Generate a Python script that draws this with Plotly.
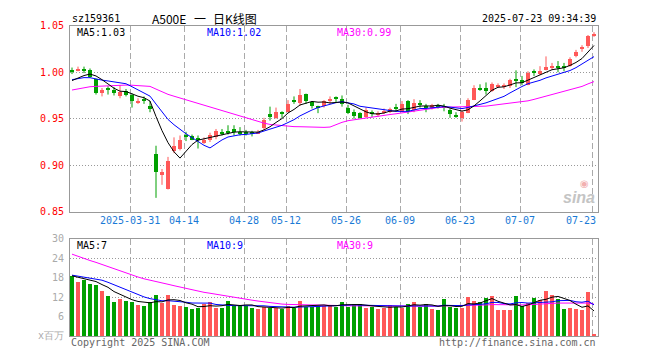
import plotly.graph_objects as go
import pandas as pd

# ---------------- data ----------------
dates = [
    "2025-03-17", "2025-03-18", "2025-03-19", "2025-03-20", "2025-03-21",
    "2025-03-24", "2025-03-25", "2025-03-26", "2025-03-27", "2025-03-28",
    "2025-03-31", "2025-04-01", "2025-04-02", "2025-04-03", "2025-04-07",
    "2025-04-08", "2025-04-09", "2025-04-10", "2025-04-11", "2025-04-14",
    "2025-04-15", "2025-04-16", "2025-04-17", "2025-04-18", "2025-04-21",
    "2025-04-22", "2025-04-23", "2025-04-24", "2025-04-25", "2025-04-28",
    "2025-04-29", "2025-04-30", "2025-05-06", "2025-05-07", "2025-05-08",
    "2025-05-09", "2025-05-12", "2025-05-13", "2025-05-14", "2025-05-15",
    "2025-05-16", "2025-05-19", "2025-05-20", "2025-05-21", "2025-05-22",
    "2025-05-23", "2025-05-26", "2025-05-27", "2025-05-28", "2025-05-29",
    "2025-05-30", "2025-06-03", "2025-06-04", "2025-06-05", "2025-06-06",
    "2025-06-09", "2025-06-10", "2025-06-11", "2025-06-12", "2025-06-13",
    "2025-06-16", "2025-06-17", "2025-06-18", "2025-06-19", "2025-06-20",
    "2025-06-23", "2025-06-24", "2025-06-25", "2025-06-26", "2025-06-27",
    "2025-06-30", "2025-07-01", "2025-07-02", "2025-07-03", "2025-07-04",
    "2025-07-07", "2025-07-08", "2025-07-09", "2025-07-10", "2025-07-11",
    "2025-07-14", "2025-07-15", "2025-07-16", "2025-07-17", "2025-07-18",
    "2025-07-21", "2025-07-22", "2025-07-23",
]

opens = [
    1.002, 1.002, 1.003, 1.003, 0.993, 0.979, 0.983, 0.981, 0.975, 0.980,
    0.976, 0.968, 0.971, 0.964, 0.913, 0.890, 0.875, 0.916, 0.918, 0.932,
    0.932, 0.929, 0.924, 0.927, 0.931, 0.936, 0.937, 0.939, 0.936, 0.936,
    0.936, 0.935, 0.940, 0.955, 0.951, 0.958, 0.958, 0.971, 0.967, 0.977,
    0.968, 0.963, 0.964, 0.970, 0.973, 0.972, 0.962, 0.958, 0.956, 0.952,
    0.957, 0.955, 0.957, 0.958, 0.962, 0.958, 0.969, 0.960, 0.967, 0.963,
    0.962, 0.964, 0.963, 0.960, 0.954, 0.951, 0.957, 0.971, 0.983, 0.983,
    0.980, 0.985, 0.985, 0.985, 0.992, 0.992, 0.987, 1.000, 0.998, 1.003,
    1.005, 1.006, 1.006, 1.007, 1.018, 1.026, 1.029, 1.040,
]
highs = [
    1.005, 1.006, 1.006, 1.004, 0.993, 0.983, 0.985, 0.984, 0.986, 0.982,
    0.977, 0.972, 0.974, 0.969, 0.921, 0.896, 0.909, 0.930, 0.932, 0.936,
    0.933, 0.932, 0.930, 0.935, 0.939, 0.939, 0.943, 0.943, 0.941, 0.938,
    0.937, 0.938, 0.951, 0.963, 0.962, 0.958, 0.970, 0.974, 0.982, 0.977,
    0.969, 0.964, 0.970, 0.974, 0.974, 0.975, 0.965, 0.960, 0.957, 0.962,
    0.959, 0.958, 0.961, 0.962, 0.966, 0.969, 0.970, 0.971, 0.970, 0.966,
    0.966, 0.966, 0.966, 0.961, 0.957, 0.959, 0.972, 0.986, 0.987, 0.989,
    0.989, 0.988, 0.988, 0.993, 1.002, 0.996, 1.001, 1.003, 1.0065, 1.017,
    1.010, 1.012, 1.010, 1.016, 1.024, 1.029, 1.040, 1.043,
]
lows = [
    0.998, 1.001, 0.999, 0.994, 0.976, 0.974, 0.976, 0.975, 0.972, 0.974,
    0.962, 0.966, 0.966, 0.957, 0.865, 0.879, 0.874, 0.913, 0.916, 0.926,
    0.927, 0.918, 0.923, 0.925, 0.928, 0.932, 0.933, 0.932, 0.932, 0.932,
    0.931, 0.934, 0.938, 0.948, 0.950, 0.951, 0.957, 0.966, 0.964, 0.966,
    0.961, 0.956, 0.962, 0.966, 0.968, 0.963, 0.955, 0.950, 0.950, 0.951,
    0.952, 0.952, 0.955, 0.956, 0.958, 0.957, 0.955, 0.957, 0.962, 0.957,
    0.960, 0.961, 0.958, 0.951, 0.951, 0.947, 0.956, 0.970, 0.980, 0.976,
    0.979, 0.983, 0.982, 0.983, 0.984, 0.986, 0.986, 0.996, 0.997, 1.002,
    1.003, 1.000, 1.001, 1.006, 1.016, 1.022, 1.026, 1.038,
]
closes = [
    1.001, 1.004, 1.002, 0.995, 0.978, 0.981, 0.982, 0.978, 0.979, 0.976,
    0.969, 0.969, 0.970, 0.961, 0.893, 0.893, 0.9045, 0.921, 0.927, 0.931,
    0.928, 0.928, 0.928, 0.933, 0.937, 0.935, 0.936, 0.937, 0.935, 0.935,
    0.935, 0.936, 0.949, 0.952, 0.958, 0.956, 0.966, 0.968, 0.976, 0.969,
    0.964, 0.962, 0.969, 0.971, 0.972, 0.966, 0.957, 0.953, 0.951, 0.960,
    0.956, 0.956, 0.958, 0.961, 0.961, 0.966, 0.958, 0.967, 0.966, 0.962,
    0.965, 0.963, 0.962, 0.955, 0.953, 0.958, 0.970, 0.983, 0.982, 0.980,
    0.988, 0.986, 0.9855, 0.992, 0.991, 0.989, 1.000, 0.9995, 1.002, 1.006,
    1.006, 1.005, 1.005, 1.0145, 1.022, 1.027, 1.039, 1.041,
]
volumes = [  # 百万
    18.6, 16.6, 17.2, 16.0, 15.7, 13.9, 12.4, 10.6, 11.5, 10.9,
    10.6, 9.7, 9.4, 10.6, 12.7, 10.3, 12.7, 9.7, 9.4, 9.1,
    8.2, 8.8, 10.0, 10.6, 8.5, 8.8, 10.9, 9.4, 9.4, 9.4,
    8.8, 8.3, 9.0, 8.8, 8.6, 8.3, 9.4, 8.8, 10.9, 9.1,
    9.1, 9.4, 9.4, 9.6, 9.1, 10.6, 9.1, 10.0, 9.8, 8.5,
    9.1, 8.2, 8.8, 9.7, 9.1, 8.8, 10.0, 10.6, 9.1, 10.0,
    8.2, 7.9, 11.5, 9.1, 8.8, 8.5, 12.1, 10.9, 10.6, 11.8,
    12.4, 7.9, 7.9, 7.9, 12.4, 9.4, 10.3, 11.8, 11.2, 13.9,
    12.7, 11.5, 8.2, 8.5, 8.2, 7.9, 13.6, 0.4,
]
# estimated sessions before the visible window (only feed the moving averages)
prior_closes = [
    0.962, 0.965, 0.968, 0.966, 0.970, 0.972, 0.969, 0.971, 0.973, 0.974,
    0.976, 0.979, 0.982, 0.980, 0.984, 0.983, 0.981, 0.985, 0.983, 0.983,
    0.990, 0.994, 0.996, 0.993, 0.992, 0.991, 0.988, 0.987, 0.988,
]
prior_volumes = [
    38, 36, 35, 33, 34, 32, 31, 30, 31, 30.4,
    27, 26, 25, 24.5, 24, 23.5, 23, 22.6, 22.5, 22.5,
    20, 19.5, 19, 18.5, 18, 19, 18.5, 18.6, 18.3,
]

tick_dates = ["2025-03-31", "2025-04-14", "2025-04-28", "2025-05-12", "2025-05-26",
              "2025-06-09", "2025-06-23", "2025-07-07", "2025-07-23"]
tick_labels = ["2025-03-31", "04-14", "04-28", "05-12", "05-26",
               "06-09", "06-23", "07-07", "07-23"]
price_ticks = [0.85, 0.90, 0.95, 1.00, 1.05]
vol_ticks = [0, 6, 12, 18, 24, 30]
vol_tick_text = ["x百万", "6", "12", "18", "24", "30"]

code = "sz159361"
name = "A500E"
stamp = "2025-07-23 09:34:39"

# ---------------- styling ----------------
W, H = 660, 360
RED = "#ff5858"
GREEN = "#00a000"
C5, C10, C30 = "#000000", "#0000ff", "#ff00ff"
MONO = "DejaVu Sans Mono"
X0, X1 = 70, 598            # plot left/right (px)
P_TOP, P_BOT = 20.3, 212.3  # price panel (px from top)
V_TOP, V_BOT = 240.3, 340.3 # volume panel

def py(v):  # px from top -> paper y
    return 1 - v / H

n = len(dates)
idx = list(range(n))
xr = [-0.333, n - 0.333]
grid_x = [dates.index(d) - 0.333 for d in tick_dates]

def ma_list(prior, vals, k):
    s = pd.Series(list(prior) + list(vals)).rolling(k).mean().tolist()
    return s[len(prior):]

pma = {k: ma_list(prior_closes, closes, k) for k in (5, 10, 30)}
vma = {k: ma_list(prior_volumes, volumes, k) for k in (5, 10, 30)}

fig = go.Figure()

# candles
for up, col in ((True, RED), (False, GREEN)):
    sel = [i for i in idx if (closes[i] >= opens[i]) == up]
    wx, wy = [], []
    for i in sel:
        wx += [i, i, None]
        wy += [lows[i], highs[i], None]
    fig.add_trace(go.Scatter(x=wx, y=wy, mode="lines", line=dict(color=col, width=1),
                             hoverinfo="skip", xaxis="x", yaxis="y"))
    fig.add_trace(go.Bar(
        x=sel,
        base=[min(opens[i], closes[i]) for i in sel],
        y=[max(abs(closes[i] - opens[i]), 0.0011) for i in sel],
        width=0.83, marker=dict(color=col, line=dict(width=0)),
        hoverinfo="skip", xaxis="x", yaxis="y"))

for k, col in ((30, C30), (10, C10), (5, C5)):
    fig.add_trace(go.Scatter(x=idx, y=pma[k], mode="lines", line=dict(color=col, width=1),
                             hoverinfo="skip", xaxis="x", yaxis="y"))

# volume
fig.add_trace(go.Bar(
    x=idx, y=volumes, width=0.83,
    marker=dict(color=[RED if closes[i] >= opens[i] else GREEN for i in idx], line=dict(width=0)),
    hoverinfo="skip", xaxis="x2", yaxis="y2"))
for k, col in ((30, C30), (10, C10), (5, C5)):
    fig.add_trace(go.Scatter(x=idx, y=vma[k], mode="lines", line=dict(color=col, width=1),
                             hoverinfo="skip", xaxis="x2", yaxis="y2"))

xdom = [X0 / W, X1 / W]
common_x = dict(range=xr, tickvals=grid_x, showticklabels=False, ticks="",
                showgrid=True, gridcolor="#aaaaaa", griddash="6px,3px", gridwidth=1,
                showline=True, mirror=True, linecolor="#999999", linewidth=1, zeroline=False,
                domain=xdom)

annos = []
def txt(x, y, s, color="#000", size=10, anchor="left", family=MONO, xref="paper", **kw):
    annos.append(dict(x=x if xref != "paper" else x / W, y=py(y), xref=xref, yref="paper",
                      text=s, showarrow=False, xanchor=anchor, yanchor="middle",
                      font=dict(color=color, size=size, family=family), **kw))

txt(70, 13, code)
txt(150, 13, name, size=12, family="Noto Sans CJK SC")
txt(192, 13, "一", size=12, family="Noto Sans CJK SC")
txt(211, 13, "日K线图", size=12, family="Noto Sans CJK SC")
txt(598, 13, stamp, anchor="right")

txt(75, 27, "MA5:%.2f" % pma[5][-1], C5)
txt(205, 27, "MA10:%.2f" % pma[10][-1], C10)
txt(335, 27, "MA30:%.2f" % pma[30][-1], C30)

txt(75, 247, "MA5:%d" % int(vma[5][-1]), C5)
txt(205, 247, "MA10:%d" % int(vma[10][-1]), C10)
txt(335, 247, "MA30:%d" % int(vma[30][-1]), C30)

for gx, lab in zip(grid_x, tick_labels):
    if lab == tick_labels[-1]:
        txt(598, 221, lab, "#1a7ad6", anchor="right")
    else:
        txt(gx, 221, lab, "#1a7ad6", anchor="center", xref="x")

txt(69, 347, "Copyright 2025 SINA.COM", "#666666")
txt(598, 347, "http://finance.sina.com.cn", "#666666", anchor="right")

# sina watermark
txt(597, 198, "<b><i>sina</i></b>", "#c4c4c4", size=16, anchor="right", family="Liberation Sans")
txt(584, 183, "◉", "#f2b0b0", size=10, anchor="center", family="DejaVu Sans")

fig.update_layout(
    width=W, height=H, margin=dict(l=0, r=0, t=0, b=0),
    paper_bgcolor="white", plot_bgcolor="white", showlegend=False,
    barmode="overlay", bargap=0, hovermode=False,
    xaxis=dict(anchor="y", **common_x),
    xaxis2=dict(anchor="y2", **common_x),
    yaxis=dict(domain=[py(P_BOT), py(P_TOP)], range=[0.85, 1.05], tickvals=price_ticks,
               ticktext=["%.2f" % v for v in price_ticks], ticks="", ticklabelstandoff=3,
               tickfont=dict(color="#ff0000", size=10, family=MONO),
               showgrid=True, gridcolor="#999999", griddash="1px,2px", gridwidth=1,
               showline=True, mirror=True, linecolor="#999999", linewidth=1, zeroline=False),
    yaxis2=dict(domain=[py(V_BOT), py(V_TOP)], range=[0, 30], tickvals=vol_ticks,
                ticktext=vol_tick_text, ticks="", ticklabelstandoff=3,
                tickfont=dict(color="#aaaaaa", size=10, family=MONO),
                showgrid=True, gridcolor="#999999", griddash="1px,2px", gridwidth=1,
                showline=True, mirror=True, linecolor="#999999", linewidth=1, zeroline=False),
    annotations=annos,
)

fig.write_html("out.html", config={"displayModeBar": False},
               post_script="document.body.style.margin='0';")
